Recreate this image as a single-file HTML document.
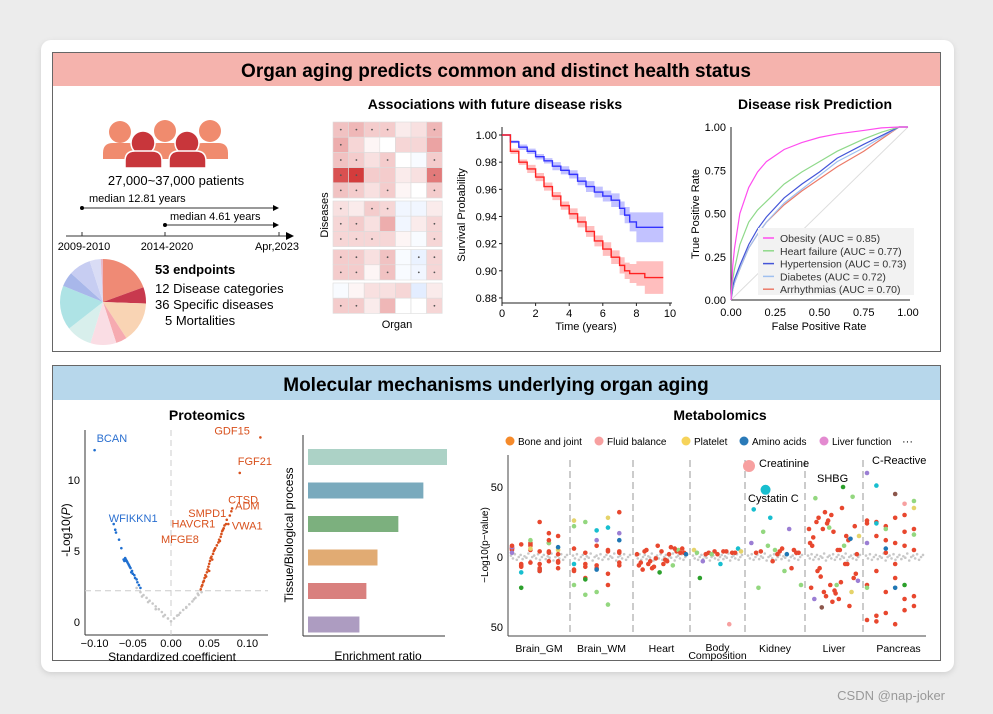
<!DOCTYPE html>
<html><head><meta charset="utf-8"><style>
html,body{margin:0;padding:0;background:#ececec;width:993px;height:714px;overflow:hidden}
svg{display:block;font-family:"Liberation Sans",Arial,sans-serif}
</style></head><body>
<svg id="s" width="993" height="714" viewBox="0 0 993 714" xmlns="http://www.w3.org/2000/svg">
<defs><filter id="sh" x="-5%" y="-5%" width="110%" height="110%"><feGaussianBlur stdDeviation="3"/></filter></defs>
<rect x="41" y="42" width="913" height="632" rx="10" fill="#d0d0d0" filter="url(#sh)"/>
<rect x="41" y="40" width="913" height="632" rx="10" fill="#fff"/>
<rect x="52.5" y="52.5" width="888" height="299" fill="none" stroke="#666"/>
<rect x="53" y="53" width="887" height="33" fill="#f5b3ad"/>
<text x="496" y="77" text-anchor="middle" font-size="19" font-weight="bold">Organ aging predicts common and distinct health status</text>
<rect x="52.5" y="365.5" width="888" height="295" fill="none" stroke="#666"/>
<rect x="53" y="366" width="887" height="34" fill="#b7d7eb"/>
<text x="496" y="391" text-anchor="middle" font-size="19" font-weight="bold">Molecular mechanisms underlying organ aging</text>
<text x="945" y="700" text-anchor="end" font-size="13" fill="#999">CSDN @nap-joker</text>

<g>
<g fill="#f08b6e"><circle cx="120" cy="132" r="11"/><circle cx="165" cy="131" r="11"/><circle cx="210" cy="131" r="11"/>
<path d="M103 159v-6q0-10 10-10h15q10 0 10 10v6z"/><path d="M148 159v-6q0-10 10-10h15q10 0 10 10v6z"/><path d="M193 159v-6q0-10 10-10h15q10 0 10 10v6z"/></g>
<g fill="#c8363b" stroke="#fff" stroke-width="1.5"><circle cx="143" cy="143" r="12"/><circle cx="187" cy="143" r="12"/>
<path d="M125 168v-7q0-10 10-10h17q10 0 10 10v7z"/><path d="M169 168v-7q0-10 10-10h17q10 0 10 10v7z"/></g>
</g>
<text x="176" y="185" text-anchor="middle" font-size="13">27,000~37,000 patients</text>
<g font-size="11">
<text x="89" y="202">median 12.81 years</text>
<line x1="82" y1="208" x2="274" y2="208" stroke="#333"/><circle cx="82" cy="208" r="2"/><path d="M279 208l-6-3v6z"/>
<text x="170" y="220">median 4.61 years</text>
<line x1="165" y1="225" x2="274" y2="225" stroke="#333"/><circle cx="165" cy="225" r="2"/><path d="M279 225l-6-3v6z"/>
<line x1="66" y1="236" x2="288" y2="236" stroke="#333"/><path d="M294 236l-8-4v8z"/>
<line x1="82" y1="232" x2="82" y2="236" stroke="#333"/><line x1="165" y1="232" x2="165" y2="236" stroke="#333"/><line x1="279" y1="232" x2="279" y2="236" stroke="#333"/>
<text x="84" y="250" text-anchor="middle">2009-2010</text><text x="167" y="250" text-anchor="middle">2014-2020</text><text x="277" y="250" text-anchor="middle">Apr,2023</text>
</g>
<g id="pie"></g>
<text x="155" y="274" font-size="13" font-weight="bold">53 endpoints</text>
<text x="155" y="293" font-size="13">12 Disease categories</text>
<text x="155" y="309" font-size="13">36 Specific diseases</text>
<text x="165" y="325" font-size="13">5 Mortalities</text>

<text x="495" y="109" text-anchor="middle" font-size="14" font-weight="bold">Associations with future disease risks</text>
<g id="heat"></g>
<text transform="translate(328,215) rotate(-90)" text-anchor="middle" font-size="11">Diseases</text>
<text x="397" y="328" text-anchor="middle" font-size="11">Organ</text>
<g id="surv"></g>
<text x="815" y="109" text-anchor="middle" font-size="14" font-weight="bold">Disease risk Prediction</text>
<g id="roc"></g>

<text x="207" y="420" text-anchor="middle" font-size="14" font-weight="bold">Proteomics</text>
<g id="volc"></g>
<g id="bars"></g>
<text x="720" y="420" text-anchor="middle" font-size="14" font-weight="bold">Metabolomics</text>
<g id="meta"></g>
</svg>
<script>
// ---- data ----
const pieValues=[70,22,55,15,35,35,60,20,30,15,3];
const pieColors=['#ef8a75','#c8394e','#f9d4b4','#f6aab0','#fadde4','#d8efec','#aee3e5','#a8b7ea','#c7cdf2','#d9dcf5','#e8b8c8'];
const heatValues=[
[.3,.35,.25,.25,.1,.15,.35],[.4,.2,.05,0,.2,.2,.45],[.3,.25,.15,.25,0,-.05,.25],[.85,.95,.25,.25,.1,.15,.65],[.3,.25,.15,.25,.05,0,.25],
[.15,.1,.25,.2,-.1,-.1,.1],[.2,.25,.15,.4,-.1,.1,.2],[.2,.2,.2,.2,.05,-.05,.2],
[.25,.25,.15,.3,-.05,-.15,.2],[.25,.25,.05,.3,-.05,-.1,.2],
[-.05,.05,.15,.15,.2,-.2,.1],[.25,.25,.1,.35,0,0,.2]];
const heatStars=[[1,1,1,1,0,0,1],[1,0,0,0,0,0,0],[1,1,0,1,0,0,1],[1,1,0,0,0,0,1],[1,1,0,1,0,0,1],[1,0,1,1,0,0,0],[1,1,0,0,0,0,1],[1,1,1,0,0,0,1],[1,1,0,1,0,1,1],[1,1,0,1,0,1,1],[0,0,0,0,0,0,0],[1,1,0,0,0,0,1]];
const survT=[0,0.5,1,1.5,2,2.5,3,3.5,4,4.5,5,5.5,6,6.5,7,7.3,7.6,8,8.5,9,9.6];
const survBlue=[1,.995,.991,.988,.984,.981,.977,.974,.971,.966,.962,.958,.955,.952,.946,.941,.936,.932,.932,.932,.932];
const survRed=[1,.988,.98,.975,.969,.962,.955,.948,.942,.936,.929,.922,.916,.91,.904,.9,.898,.898,.895,.895,.895];
const survBlueErr=[0,.001,.002,.002,.002,.002,.003,.003,.003,.003,.004,.004,.004,.005,.005,.006,.007,.011,.011,.011,.011];
const survRedErr=[0,.002,.002,.003,.003,.003,.003,.003,.004,.004,.004,.004,.005,.005,.006,.006,.007,.009,.012,.012,.012];
const survYTicks=[1.00,0.98,0.96,0.94,0.92,0.90,0.88];
const survXTicks=[0,2,4,6,8,10];
const rocNames=['Obesity (AUC = 0.85)','Heart failure (AUC = 0.77)','Hypertension (AUC = 0.73)','Diabetes (AUC = 0.72)','Arrhythmias (AUC = 0.70)'];
const rocColors=['#ff4df0','#8fd98a','#4455d8','#9fc0ef','#ec7a68'];
const rocFPR=[0,.01,.02,.05,.1,.15,.2,.3,.4,.5,.6,.75,.85,.95];
const rocObesity=[0,.2,.3,.5,.65,.74,.8,.87,.91,.94,.96,.98,.995,1];
const rocHeart=[0,.12,.18,.32,.45,.52,.57,.67,.74,.8,.86,.93,.97,1];
const rocHyper=[0,.08,.12,.2,.32,.41,.48,.59,.67,.74,.82,.9,.95,1];
const rocDiab=[0,.06,.1,.18,.3,.38,.45,.56,.64,.72,.8,.88,.94,1];
const rocArr=[0,.06,.1,.18,.3,.38,.45,.55,.63,.7,.77,.86,.93,1];
const rocTicks=[0,.25,.5,.75,1];
const volcGrayX=[-.045,-.04,-.036,-.032,-.028,-.024,-.02,-.016,-.012,-.008,-.004,0,.004,.008,.012,.016,.02,.024,.028,.032,.036,.04,-.03,-.02,-.01,.01,.02,.03,-.038,.035];
const volcGrayY=[2.4,2.1,1.9,1.7,1.5,1.3,1.1,.9,.7,.5,.25,.05,.25,.45,.65,.85,1.05,1.25,1.45,1.7,1.9,2.1,1.4,.9,.4,.5,1.0,1.6,1.8,2.0];
const volcBlueX=[-.04,-.042,-.044,-.045,-.047,-.048,-.05,-.051,-.052,-.053,-.054,-.055,-.056,-.057,-.058,-.059,-.06,-.061,-.062,-.065,-.068,-.072,-.073,-.075,-.1];
const volcBlueY=[2.4,2.6,2.8,3,3.1,3.3,3.4,3.6,3.5,3.8,3.9,4,4.1,4.2,4.3,4.4,4.5,4.3,4.4,5.2,5.8,6.3,6.5,6.9,12.1];
const volcRedX=[.039,.04,.041,.042,.043,.044,.045,.046,.047,.048,.049,.05,.05,.051,.052,.053,.054,.055,.056,.057,.058,.06,.062,.063,.064,.065,.066,.067,.068,.069,.07,.072,.073,.075,.077,.079,.08,.09,.117];
const volcRedY=[2.3,2.5,2.6,2.8,2.9,3.1,3.3,3.2,3.5,3.7,3.9,4.1,3.6,4.3,4.5,4.6,4.4,4.8,5,5.1,5.2,5.4,5.6,5.8,5.7,6,6.2,6.4,6.5,6.6,6.8,6.9,7.2,6.9,7.5,7.8,8,10.5,13];
const volcLabels=[['BCAN',-.1,12.1,-1],['WFIKKN1',-.075,6.9,-1],['GDF15',.117,13,1],['FGF21',.09,10.5,1],['CTSD',.08,8,1],['ADM',.08,7.5,1],['SMPD1',.075,7.2,1],['VWA1',.077,6.8,1],['HAVCR1',.07,6.8,1],['MFGE8',.068,6.2,1]];
const volcXTicks=[-.1,-.05,0,.05,.1];
const volcYTicks=[0,5,10];
const barValues=[1,.83,.65,.5,.42,.37];
const barColors=['#acd2c6','#7aaabd','#7cb07e','#e1ab73','#d9807e','#ad9cc1'];
const metaOrgans=['Brain_GM','Brain_WM','Heart','Body Composition','Kidney','Liver','Pancreas'];
const metaPoints=[
"5r -5r 8r -8r 10r -3r 6r -6r 9r -9r 4r -4r 7r -7r 10r -5r 3r -8r 6r 9r -4r -10c 10lg 5y 7p -22g 12lg 25r 17r 15r 8r -6r 5r -10r 12r 7b 3p -11c 6y 4r -3r 2r",
"6r -5r -8r -12r 3r -9r -15r -6r -20r 4r -10r -7r 12p 28y 17p 22lg -16g 19c -34lg 32r 26y 25lg 8r 4r -6r -20lg -27lg -25lg 21c 12b -5c 3r -9b 5r -4r",
"2r -3r -5r 4r -6r -8r -2r 5lg -4r -7r -3r 3r -9r -1r 2r 6r 4r 8r 7r 3r 5r -11g -6lg 2b -5r 4r 6r",
"5y 4r 3r 2r 4r 3lg 2r 6c 3r -48pk -15g -5c 4y 2lg 3r -3p 4r",
"65pk 48c 6r 3r 4r 2r 5r 3r -3r 20p 10p 8lg -10lg -20lg 18lg 4r 3r -22lg 5lg -8r 34c 28c 2b",
"20r 25r -25r 30r -30r 15r -15r 10r -10r 32r -32r 5r -5r 22r -22r 28r -28r 18r -18r 12r -12r 8r -8r 24r -24r 35r -35r 2r 14r -14r 26r -26r 50g 13b -17p -30p -36br 21lg -20lg 8lg -25y 15y 42lg 20r -20r 5r -5r 43lg",
"60p 25r -25r 28r -38r 20r -45r 15r -40r 10r -30r 5r -20r -10r 22r -48r 18r -35r 26r -42r 12r -15r 8r -28r 24r -46r 3r -5r 30r 16lg -22lg 51c 6b -22b -20g 35y 10p 24c 20lg 45br 38pk 40lg"];
const metaGray=[1,-1,2,-2,0,1.5,-1.5,.5,-.5,2.5,-2.5,0];
const metaLegend=[['Bone and joint','#f58a2a'],['Fluid balance','#f7a0a0'],['Platelet','#f6d35a'],['Amino acids','#2a7ab8'],['Liver function','#e38ad0']];
const metaColor={r:'#e8472e',g:'#2ca02c',lg:'#93d77f',p:'#9b7ed4',b:'#1f77b4',c:'#17becf',y:'#e5d36a',pk:'#f7a0a0',br:'#8c564b'};
// ---- helpers ----
const NS='http://www.w3.org/2000/svg';
function el(parent,tag,attrs,txt){const e=document.createElementNS(NS,tag);for(const k in attrs)e.setAttribute(k,attrs[k]);if(txt!==undefined)e.textContent=txt;parent.appendChild(e);return e;}
const G=id=>document.getElementById(id);
(function(){const g=G('pie'),cx=103,cy=302,r=43;let tot=pieValues.reduce((a,b)=>a+b,0),a0=-Math.PI/2;
pieValues.forEach((v,i)=>{const a1=a0+v/tot*2*Math.PI;const p=el(g,'path',{d:`M${cx},${cy}L${cx+r*Math.cos(a0)},${cy+r*Math.sin(a0)}A${r},${r} 0 ${a1-a0>Math.PI?1:0} 1 ${cx+r*Math.cos(a1)},${cy+r*Math.sin(a1)}Z`,fill:pieColors[i]});

a0=a1;});})();
(function(){const g=G('heat'),x0=333,cw=15.6,ch=15.2;const gaps=[0,0,0,0,0,3,3,3,6,6,9,9];
heatValues.forEach((row,i)=>row.forEach((v,j)=>{const c=v>=0?`rgb(${255-Math.round(v*45)},${Math.round(255-v*205)},${Math.round(255-v*205)})`:`rgb(${Math.round(255+v*140)},${Math.round(255+v*90)},255)`;
const y=122+i*ch+gaps[i];const r=el(g,'rect',{x:x0+j*cw,y:y,width:cw,height:ch,fill:c,stroke:'#ddd','stroke-width':.6});


if(heatStars[i][j])el(g,'circle',{cx:x0+j*cw+cw/2,cy:y+ch/2,r:.9,fill:'#555'});}));})();
(function(){const g=G('surv');const X=t=>502+t*16.8,Y=v=>135+(1-v)*1358;
el(g,'line',{x1:502,y1:127,x2:502,y2:303,stroke:'#222'});el(g,'line',{x1:502,y1:303,x2:672,y2:303,stroke:'#222'});
survYTicks.forEach(v=>{el(g,'line',{x1:499,y1:Y(v),x2:502,y2:Y(v),stroke:'#222'});el(g,'text',{x:497,y:Y(v)+4,'text-anchor':'end','font-size':11},v.toFixed(2));});
survXTicks.forEach(t=>{el(g,'line',{x1:X(t),y1:303,x2:X(t),y2:306,stroke:'#222'});el(g,'text',{x:X(t),y:317,'text-anchor':'middle','font-size':11},t);});
el(g,'text',{x:586,y:330,'text-anchor':'middle','font-size':11},'Time (years)');
el(g,'text',{transform:'translate(465,215) rotate(-90)','text-anchor':'middle','font-size':11},'Survival Probability');
function step(vals){let d='';survT.forEach((t,i)=>{const v=vals[i];d+=(i?`H${X(t)}V${Y(v)}`:`M${X(t)},${Y(v)}`);});return d;}
[[survBlue,survBlueErr,'#3333ff','#b7b7ff','survival-blue'],[survRed,survRedErr,'#ff2222','#ffb3b3','survival-red']].forEach(([s,e,c,f,n])=>{
let up='',lo=[];survT.forEach((t,i)=>{const nt=i<survT.length-1?survT[i+1]:t;up+=(i?'L':'M')+X(t)+','+Y(s[i]+e[i])+'L'+X(nt)+','+Y(s[i]+e[i]);lo.unshift('L'+X(nt)+','+Y(s[i]-e[i])+'L'+X(t)+','+Y(s[i]-e[i]));});
const b=el(g,'path',{d:up+lo.join('')+'Z',fill:f,opacity:.85});


const l=el(g,'path',{d:step(s),fill:'none',stroke:c,'stroke-width':1.4});

});})();
(function(){const g=G('roc');const X=v=>731+v*177,Y=v=>300-v*173;
el(g,'line',{x1:X(0),y1:Y(0),x2:X(1),y2:Y(1),stroke:'#ddd'});
el(g,'line',{x1:731,y1:127,x2:731,y2:300,stroke:'#222'});el(g,'line',{x1:731,y1:300,x2:910,y2:300,stroke:'#222'});
rocTicks.forEach(v=>{el(g,'text',{x:726,y:Y(v)+4,'text-anchor':'end','font-size':11},v.toFixed(2));el(g,'text',{x:X(v),y:316,'text-anchor':'middle','font-size':11},v.toFixed(2));});
el(g,'text',{x:819,y:330,'text-anchor':'middle','font-size':11},'False Positive Rate');
el(g,'text',{transform:'translate(699,214) rotate(-90)','text-anchor':'middle','font-size':11},'True Positive Rate');
[rocArr,rocDiab,rocHyper,rocHeart,rocObesity].forEach((s,k)=>{const i=4-k;const l=el(g,'polyline',{points:rocFPR.map((f,j)=>X(f)+','+Y(s[j])).join(' ')+' '+X(1)+','+Y(1),fill:'none',stroke:rocColors[i],'stroke-width':1.2});

});
el(g,'rect',{x:758,y:228,width:156,height:67,fill:'#f2f2f2'});
rocNames.forEach((n,i)=>{const y=238+i*12.8;el(g,'line',{x1:763,y1:y,x2:774,y2:y,stroke:rocColors[i],'stroke-width':1.5});
const t=el(g,'text',{x:780,y:y+4,'font-size':10.5,fill:'#333'},n);

});})();
(function(){const g=G('volc');const X=v=>171+v*764,Y=v=>622-v*14.2;
el(g,'line',{x1:85,y1:430,x2:85,y2:635,stroke:'#333'});el(g,'line',{x1:85,y1:635,x2:268,y2:635,stroke:'#333'});
el(g,'line',{x1:85,y1:Y(2.2),x2:268,y2:Y(2.2),stroke:'#ccc','stroke-dasharray':'6,4'});el(g,'line',{x1:171,y1:430,x2:171,y2:635,stroke:'#ccc','stroke-dasharray':'6,4'});
volcXTicks.forEach(v=>el(g,'text',{x:X(v),y:647,'text-anchor':'middle','font-size':11},v.toFixed(2).replace('-','−')));
volcYTicks.forEach(v=>el(g,'text',{x:80,y:Y(v)+4,'text-anchor':'end','font-size':11},v));
el(g,'text',{x:172,y:661,'text-anchor':'middle','font-size':12},'Standardized coefficient');
const yt=el(g,'text',{transform:'translate(70,530) rotate(-90)','text-anchor':'middle','font-size':12});yt.innerHTML='-Log10(<tspan font-style="italic">P</tspan>)';
[[volcGrayX,volcGrayY,'#c8c8c8'],[volcBlueX,volcBlueY,'#1f6fd0'],[volcRedX,volcRedY,'#d8501c']].forEach(([xs,ys,c])=>xs.forEach((x,i)=>{const p=el(g,'circle',{cx:X(x),cy:Y(ys[i]),r:1.3,fill:c});

}));
const off={BCAN:[2,-8],WFIKKN1:[-5,-2],GDF15:[-46,-3],FGF21:[-2,-8],CTSD:[-4,-5],ADM:[3,-6],SMPD1:[-40,-3],VWA1:[2,4],HAVCR1:[-53,2],MFGE8:[-62,9]};
volcLabels.forEach(([n,x,y,s])=>{const o=off[n];el(g,'text',{x:X(x)+o[0],y:Y(y)+o[1],'font-size':11,fill:s<0?'#2a6fd0':'#d8501c','text-anchor':'start'},n);});})();
(function(){const g=G('bars');const X=v=>308+v*139;
el(g,'line',{x1:303,y1:435,x2:303,y2:636,stroke:'#333'});el(g,'line',{x1:303,y1:636,x2:445,y2:636,stroke:'#333'});
barValues.forEach((v,i)=>{const r=el(g,'rect',{x:308,y:449+i*33.5,width:X(v)-308,height:16,fill:barColors[i]});

});
el(g,'text',{x:378,y:660,'text-anchor':'middle','font-size':12},'Enrichment ratio');
el(g,'text',{transform:'translate(293,535) rotate(-90)','text-anchor':'middle','font-size':12},'Tissue/Biological process');})();
(function(){const g=G('meta');const Y=v=>557-v*1.4;const bounds=[508,570,633,690,745,805,863,926];
const legX=[510,599,686,744,824];
metaLegend.forEach(([n,c],i)=>{const xs=legX[i];el(g,'circle',{cx:xs,cy:441,r:4.5,fill:c});el(g,'text',{x:xs+8,y:445,'font-size':10},n);});
el(g,'text',{x:902,y:445,'font-size':11},'···');
el(g,'line',{x1:508,y1:455,x2:508,y2:636,stroke:'#444'});el(g,'line',{x1:508,y1:636,x2:926,y2:636,stroke:'#444'});
[[50,'50'],[0,'0'],[-50,'50']].forEach(([v,t])=>el(g,'text',{x:503,y:Y(v)+4,'text-anchor':'end','font-size':11},t));
el(g,'text',{transform:'translate(488,545) rotate(-90)','text-anchor':'middle','font-size':10},'−Log10(p−value)');
bounds.slice(1,-1).forEach(x=>el(g,'line',{x1:x,y1:460,x2:x,y2:632,stroke:'#999','stroke-dasharray':'7,4'}));
metaOrgans.forEach((n,k)=>{const a=bounds[k],b=bounds[k+1],cx=(a+b)/2;
if(n==='Body Composition'){el(g,'text',{x:cx,y:651,'text-anchor':'middle','font-size':10.5},'Body');el(g,'text',{x:cx,y:659,'text-anchor':'middle','font-size':10.5},'Composition');}
else el(g,'text',{x:cx+(k==6?4:0),y:652,'text-anchor':'middle','font-size':10.5},n);
for(let i=0;i<30;i++){el(g,'circle',{cx:a+3+i*(b-a-6)/29,cy:Y(metaGray[i%metaGray.length]),r:1.3,fill:'#c8c8c8'});}
const pts=metaPoints[k].split(' ');pts.forEach((t,i)=>{const m=t.match(/(-?\d+)(\w+)/);const v=+m[1],c=m[2];
let r=2.3;if(k==4&&i<2)r=i==0?6:5;
const p=el(g,'circle',{cx:a+4+((i*7)%pts.length)*(b-a-8)/Math.max(pts.length-1,1),cy:Y(v),r:r,fill:metaColor[c]});

});});
el(g,'text',{x:759,y:467,'font-size':11},'Creatinine');el(g,'text',{x:748,y:502,'font-size':11},'Cystatin C');
el(g,'text',{x:817,y:482,'font-size':11},'SHBG');el(g,'text',{x:872,y:464,'font-size':11},'C-Reactive');})();
</script>
</body></html>
